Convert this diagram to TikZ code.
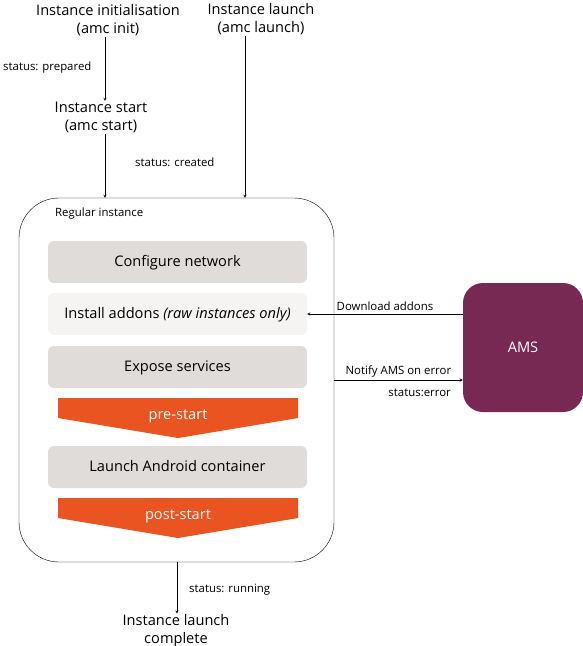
\documentclass[tikz,border=0pt]{standalone}
\usepackage{fontspec}
\setmainfont{Open Sans}
\usepackage{tikz}
\usetikzlibrary{arrows}
\usetikzlibrary{positioning}
\definecolor{stepgrey}{HTML}{DFDCD9}
\definecolor{optgrey}{HTML}{F5F4F3}
\definecolor{hookorange}{HTML}{E95420}
\definecolor{amsplum}{HTML}{772953}
\tikzset{label text/.style={font=\fontsize{11.4}{13}\selectfont, inner sep=0pt}}
\tikzset{stage/.style={font=\fontsize{14.6}{18}\selectfont, align=center, inner sep=1pt}}
\tikzset{stepbox/.style={fill=stepgrey, rounded corners=6pt, minimum width=259pt, minimum height=42pt, font=\fontsize{14.6}{17}\selectfont, inner sep=0pt, text height=2ex, text depth=0.2ex}}
\tikzset{hook/.style={fill=hookorange}}
\newcommand{\hookarrow}[3]{% top y, name, text
\fill [hook] (58,#1) -- (298,#1) -- (298,#1+20) -- (178,#1+40) -- (58,#1+20) -- cycle;
\node [text=white, font=\fontsize{14.6}{17}\selectfont] (#2) at (178,#1+18) {#3};}

\begin{document}
\begin{tikzpicture}[x=1pt, y=-1pt, >=stealth]
\useasboundingbox (0,0) rectangle (583,646);

% entry points
\node [stage] (init) at (108,20.5) {Instance initialisation\\(amc init)};
\node [stage] (start) at (101,117.5) {Instance start\\(amc start)};
\node [stage] (launch) at (261,19.5) {Instance launch\\(amc launch)};

% the instance
\node [draw, rounded corners=40pt, minimum width=315pt, minimum height=364pt, inner sep=0pt] (inst) at (176.5,380) {};
\node [label text, anchor=west] (instlabel) at (55,213.5) {Regular instance};

\foreach \n/\y/\t in {network/262/Configure network, services/367/Expose services, container/467/Launch Android container}
\node [stepbox] (\n) at (177.5,\y) {\t};
\node [stepbox, fill=optgrey] (addons) at (177.5,314) {Install addons \textit{(raw instances only)}};

\hookarrow{398}{prestart}{pre-start}
\hookarrow{498}{poststart}{post-start}

% AMS
\node [fill=amsplum, rounded corners=20pt, minimum width=120pt, minimum height=129pt, text=white, font=\fontsize{14.6}{17}\selectfont, text height=2ex, text depth=0.2ex] (ams) at (523,347.5) {AMS};

\node [stage] (complete) at (176,631) {Instance launch\\complete};

% transitions
\draw [->] (init.south -| 105,0) -- (start.north -| 105,0);
\node [label text, anchor=west] (prepared) at (3,67.5) {status: prepared};
\draw [->] (start.south -| 105,0) -- (inst.north -| 105,0);
\node [label text, anchor=west] (created) at (135,162) {status: created};
\draw [->] (launch.south -| 245,0) -- (inst.north -| 245,0);
\draw [->] (inst.south -| 177,0) -- (complete.north -| 177,0);
\node [label text, anchor=west] (running) at (189,590) {status: running};

\draw [->] (ams.west |- addons.east) -- (addons.east)
node [label text, above=3pt, midway] {Download addons};
\coordinate (err) at (334,380);
\draw [->] (err) -- (err -| ams.west)
node [label text, above=3pt, midway] {Notify AMS on error}
node [label text, anchor=north east] at (451,389) {status:error};
\end{tikzpicture}
\end{document}
